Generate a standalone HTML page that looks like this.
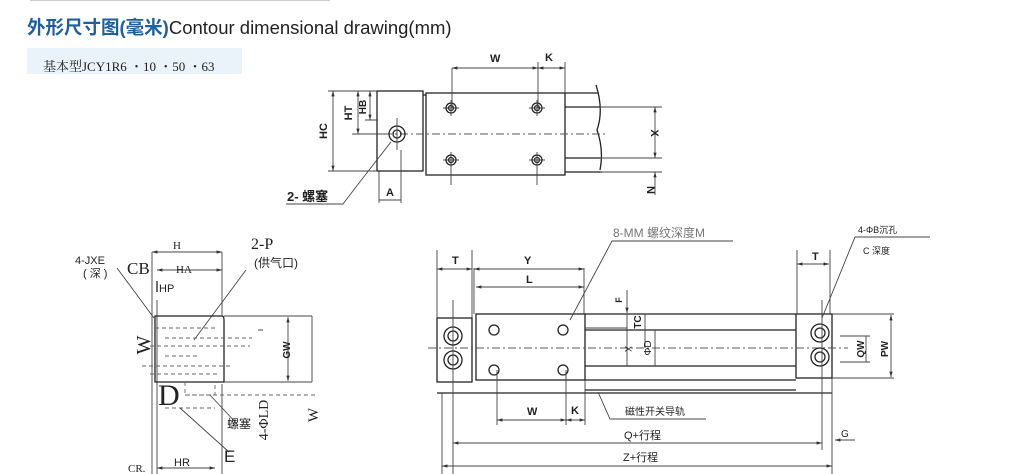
<!DOCTYPE html>
<html><head><meta charset="utf-8"><style>
body{margin:0;background:#fff;width:1024px;height:474px;overflow:hidden}
svg{display:block}
text{font-family:"Liberation Sans","Noto Sans CJK SC",sans-serif;fill:#222}
.s{font-family:"Liberation Serif","Noto Serif CJK SC",serif}
.l{stroke:#222;stroke-width:1.3;fill:none}
.t{stroke:#444;stroke-width:0.9;fill:none}
.d{stroke:#555;stroke-width:0.9;fill:none;stroke-dasharray:8 3 2 3}
.dd{stroke:#666;stroke-width:0.9;fill:none;stroke-dasharray:4 3}
</style></head><body>
<svg width="1024" height="474" viewBox="0 0 1024 474" xmlns="http://www.w3.org/2000/svg">
<defs><marker id="a" viewBox="0 0 10 10" refX="10" refY="5" markerWidth="6" markerHeight="6" orient="auto-start-reverse"><path d="M0,2 L10,5 L0,8z" fill="#333"/></marker></defs>
<line x1="30" y1="0.5" x2="330" y2="0.5" stroke="#ccc" stroke-width="1"/>
<text x="27" y="34" font-size="18.5"><tspan style="fill:#1f5f9c" font-weight="bold">外形尺寸图(毫米)</tspan><tspan>Contour dimensional drawing(mm)</tspan></text>
<rect x="27" y="48" width="215" height="26" fill="#eaf3f9"/>
<text x="43" y="71" font-size="13" class="s">基本型JCY1R6 ・10 ・50 ・63</text>

<!-- top view -->
<rect x="377" y="91" width="46" height="80" class="l"/>
<rect x="426" y="93" width="139" height="82" class="l"/>
<line x1="423" y1="95" x2="426" y2="95" class="l"/>
<path d="M565 107 H600 M565 158 H600 M565 93 H598 M565 172 H602" class="l"/>
<path d="M596 85 Q604 110 597 130 Q604 150 600 170" class="l"/>
<line x1="352" y1="134" x2="607" y2="134" class="d"/>
<line x1="600" y1="107" x2="662" y2="107" class="t"/>
<line x1="600" y1="158" x2="662" y2="158" class="t"/>
<line x1="600" y1="172" x2="662" y2="172" class="t"/>
<g class="l">
<circle cx="451" cy="108" r="5"/><circle cx="537" cy="108" r="5"/><circle cx="451" cy="160" r="5"/><circle cx="537" cy="160" r="5"/>
<circle cx="451" cy="108" r="2.5"/><circle cx="537" cy="108" r="2.5"/><circle cx="451" cy="160" r="2.5"/><circle cx="537" cy="160" r="2.5"/>
<circle cx="397" cy="134" r="8"/><circle cx="397" cy="134" r="4"/>
</g>
<path d="M443 108H459M451 100V116M529 108H545M537 100V116M443 160H459M451 152V185M529 160H545M537 152V185M397 118V150" class="t"/>
<line x1="452" y1="68" x2="452" y2="108" class="t"/><line x1="538" y1="62" x2="538" y2="108" class="t"/><line x1="565" y1="62" x2="565" y2="93" class="t"/>
<line x1="452" y1="68" x2="538" y2="68" class="t" marker-start="url(#a)" marker-end="url(#a)"/>
<line x1="538" y1="68" x2="565" y2="68" class="t" marker-start="url(#a)" marker-end="url(#a)"/>
<text x="490" y="62" font-size="11" font-weight="bold">W</text><text x="545" y="61" font-size="11" font-weight="bold">K</text>
<path d="M328 91H377M328 171H377M353 134H390M365 120H378" class="t"/>
<line x1="333" y1="91" x2="333" y2="171" class="t" marker-start="url(#a)" marker-end="url(#a)"/>
<line x1="358" y1="91" x2="358" y2="134" class="t" marker-start="url(#a)" marker-end="url(#a)"/>
<line x1="370" y1="91" x2="370" y2="120" class="t" marker-start="url(#a)" marker-end="url(#a)"/>
<text transform="translate(327,131) rotate(-90)" font-size="11" text-anchor="middle" font-weight="bold">HC</text>
<text transform="translate(352,113) rotate(-90)" font-size="11" text-anchor="middle" font-weight="bold">HT</text>
<text transform="translate(366,107) rotate(-90)" font-size="10" text-anchor="middle" font-weight="bold">HB</text>
<line x1="655" y1="107" x2="655" y2="158" class="t" marker-start="url(#a)" marker-end="url(#a)"/>
<line x1="655" y1="172" x2="655" y2="195" class="t" marker-start="url(#a)"/>
<text transform="translate(651,133) rotate(90)" font-size="11" text-anchor="middle" font-weight="bold">X</text>
<text transform="translate(647,190) rotate(90)" font-size="11" text-anchor="middle" font-weight="bold">N</text>
<path d="M379 171V203M401 150V203" class="t"/>
<line x1="379" y1="200" x2="401" y2="200" class="t"/>
<text x="386" y="196" font-size="11" font-weight="bold">A</text>
<text x="287" y="201" font-size="13" font-weight="bold">2- 螺塞</text>
<path d="M286 204H343Q365 175 391 142" class="t"/>

<!-- side view -->
<path d="M152 252V474M222 252V316M157 300V474M222 384V474" class="t"/>
<line x1="152" y1="252" x2="222" y2="252" class="t" marker-start="url(#a)" marker-end="url(#a)"/>
<line x1="157" y1="270" x2="222" y2="270" class="t" marker-start="url(#a)" marker-end="url(#a)"/>
<text x="173" y="249" font-size="11" class="s">H</text>
<text x="176" y="273" font-size="11" class="s">HA</text>
<text x="127" y="274" font-size="17" class="s">CB</text>
<text x="75" y="264" font-size="11">4-JXE</text><text x="83" y="277" font-size="11">( 深 )</text>
<line x1="157" y1="281" x2="157" y2="292" class="l"/>
<text x="159" y="292" font-size="11">HP</text>
<text x="251" y="249" font-size="16" class="s">2-P</text><text x="254" y="267" font-size="12">(供气口)</text>
<path d="M117 268L154 318M246 270L194 340" class="t"/>
<path d="M155 316H222Q224 316 224 320V382H155Z" class="l"/>
<path d="M155 328H215M165 338H252M150 346H250M165 356H200M142 366H230M150 374H220" class="dd"/>
<path d="M224 316H312M224 382H312M258 330H263M312 316V382" class="t"/>
<line x1="288" y1="317" x2="288" y2="381" class="t" marker-start="url(#a)" marker-end="url(#a)"/>
<text transform="translate(290,350) rotate(-90)" font-size="10" text-anchor="middle" font-weight="bold">GW</text>
<text transform="translate(150,345) rotate(-90)" font-size="20" text-anchor="middle" class="s">W</text>
<path d="M185 382V395H215V382M185 395H315M165 408H215" class="dd"/>
<text x="158" y="405" font-size="30" class="s">D</text>
<path d="M180 408L229 452M210 395L238 425" class="t"/>
<text transform="translate(268,420) rotate(-90)" font-size="14" text-anchor="middle" class="s">4-ΦLD</text>
<text x="227" y="428" font-size="12">螺塞</text>
<text x="224" y="462" font-size="17">E</text>
<text transform="translate(318,415) rotate(-90)" font-size="15" text-anchor="middle" class="s">W</text>
<line x1="157" y1="468" x2="215" y2="468" class="t" marker-start="url(#a)" marker-end="url(#a)"/>
<text x="174" y="466" font-size="11">HR</text>
<text x="128" y="472" font-size="11" class="s">CR.</text>

<!-- front view -->
<rect x="437" y="318" width="35" height="64" class="l"/>
<rect x="476" y="314" width="109" height="66" class="l"/>
<rect x="796" y="314" width="36" height="64" class="l"/>
<path d="M585 314H796M585 330H796M585 366H796M585 380H796M437 393H832M585 390H796" class="l"/>
<line x1="428" y1="348" x2="848" y2="348" class="d"/>
<g class="l">
<circle cx="453" cy="336" r="9"/><circle cx="453" cy="336" r="5"/><circle cx="453" cy="360" r="9"/><circle cx="453" cy="360" r="5"/>
<circle cx="820" cy="333" r="9"/><circle cx="820" cy="333" r="5"/><circle cx="820" cy="357" r="9"/><circle cx="820" cy="357" r="5"/>
<circle cx="494" cy="330" r="5"/><circle cx="563" cy="330" r="5"/><circle cx="494" cy="370" r="5"/><circle cx="563" cy="370" r="5"/>
</g>
<path d="M437 250V318M472 250V318M474 268V314M584 268V314M797 250V314M830 250V314M453 300V474M442 393V474M832 378V474M822 300V450M497 370V425M566 370V425M585 380V425" class="t"/>
<line x1="437" y1="269" x2="472" y2="269" class="t" marker-start="url(#a)" marker-end="url(#a)"/>
<line x1="474" y1="269" x2="584" y2="269" class="t" marker-start="url(#a)" marker-end="url(#a)"/>
<line x1="476" y1="287" x2="584" y2="287" class="t" marker-start="url(#a)" marker-end="url(#a)"/>
<line x1="797" y1="264" x2="829" y2="264" class="t" marker-start="url(#a)" marker-end="url(#a)"/>
<text x="452" y="264" font-size="11" font-weight="bold">T</text><text x="524" y="264" font-size="11" font-weight="bold">Y</text>
<text x="526" y="283" font-size="11" font-weight="bold">L</text><text x="812" y="260" font-size="11" font-weight="bold">T</text>
<line x1="627" y1="290" x2="627" y2="313" class="t" marker-end="url(#a)"/>
<text transform="translate(622,300) rotate(-90)" font-size="9" text-anchor="middle" font-weight="bold">F</text>
<path d="M585 328H627M627 314V366M645 314V348M655 330V366" class="t"/>
<text transform="translate(641,322) rotate(-90)" font-size="10" text-anchor="middle" font-weight="bold">TC</text>
<text transform="translate(625,349) rotate(90)" font-size="9" text-anchor="middle">X</text>
<text transform="translate(651,348) rotate(-90)" font-size="10" text-anchor="middle">ΦD</text>
<path d="M840 336H870M840 362H870M832 314H894M832 378H894" class="t"/>
<line x1="866" y1="336" x2="866" y2="362" class="t"/>
<line x1="891" y1="315" x2="891" y2="377" class="t" marker-start="url(#a)" marker-end="url(#a)"/>
<text transform="translate(864,349) rotate(-90)" font-size="10" text-anchor="middle" font-weight="bold">QW</text>
<text transform="translate(888,349) rotate(-90)" font-size="10" text-anchor="middle" font-weight="bold">PW</text>
<line x1="497" y1="420" x2="566" y2="420" class="t" marker-start="url(#a)" marker-end="url(#a)"/>
<line x1="566" y1="420" x2="585" y2="420" class="t" marker-start="url(#a)" marker-end="url(#a)"/>
<text x="527" y="415" font-size="11" font-weight="bold">W</text><text x="571" y="414" font-size="11" font-weight="bold">K</text>
<path d="M598 392L610 419H706" class="t"/>
<text x="625" y="415" font-size="10">磁性开关导轨</text>
<line x1="453" y1="443" x2="822" y2="443" class="t" marker-start="url(#a)" marker-end="url(#a)"/>
<text x="624" y="439" font-size="11">Q+行程</text>
<line x1="835" y1="440" x2="855" y2="440" class="t" marker-start="url(#a)"/>
<text x="841" y="437" font-size="10">G</text>
<line x1="442" y1="466" x2="832" y2="466" class="t" marker-start="url(#a)" marker-end="url(#a)"/>
<text x="623" y="461" font-size="11">Z+行程</text>
<text x="613" y="237" font-size="12" style="fill:#777">8-MM 螺纹深度M</text>
<path d="M733 241H612L570 320" class="t"/>
<text x="858" y="233" font-size="9">4-ΦB沉孔</text>
<text x="863" y="254" font-size="9">C  深度</text>
<path d="M930 237H855L822 318" class="t"/>
</svg>
</body></html>
